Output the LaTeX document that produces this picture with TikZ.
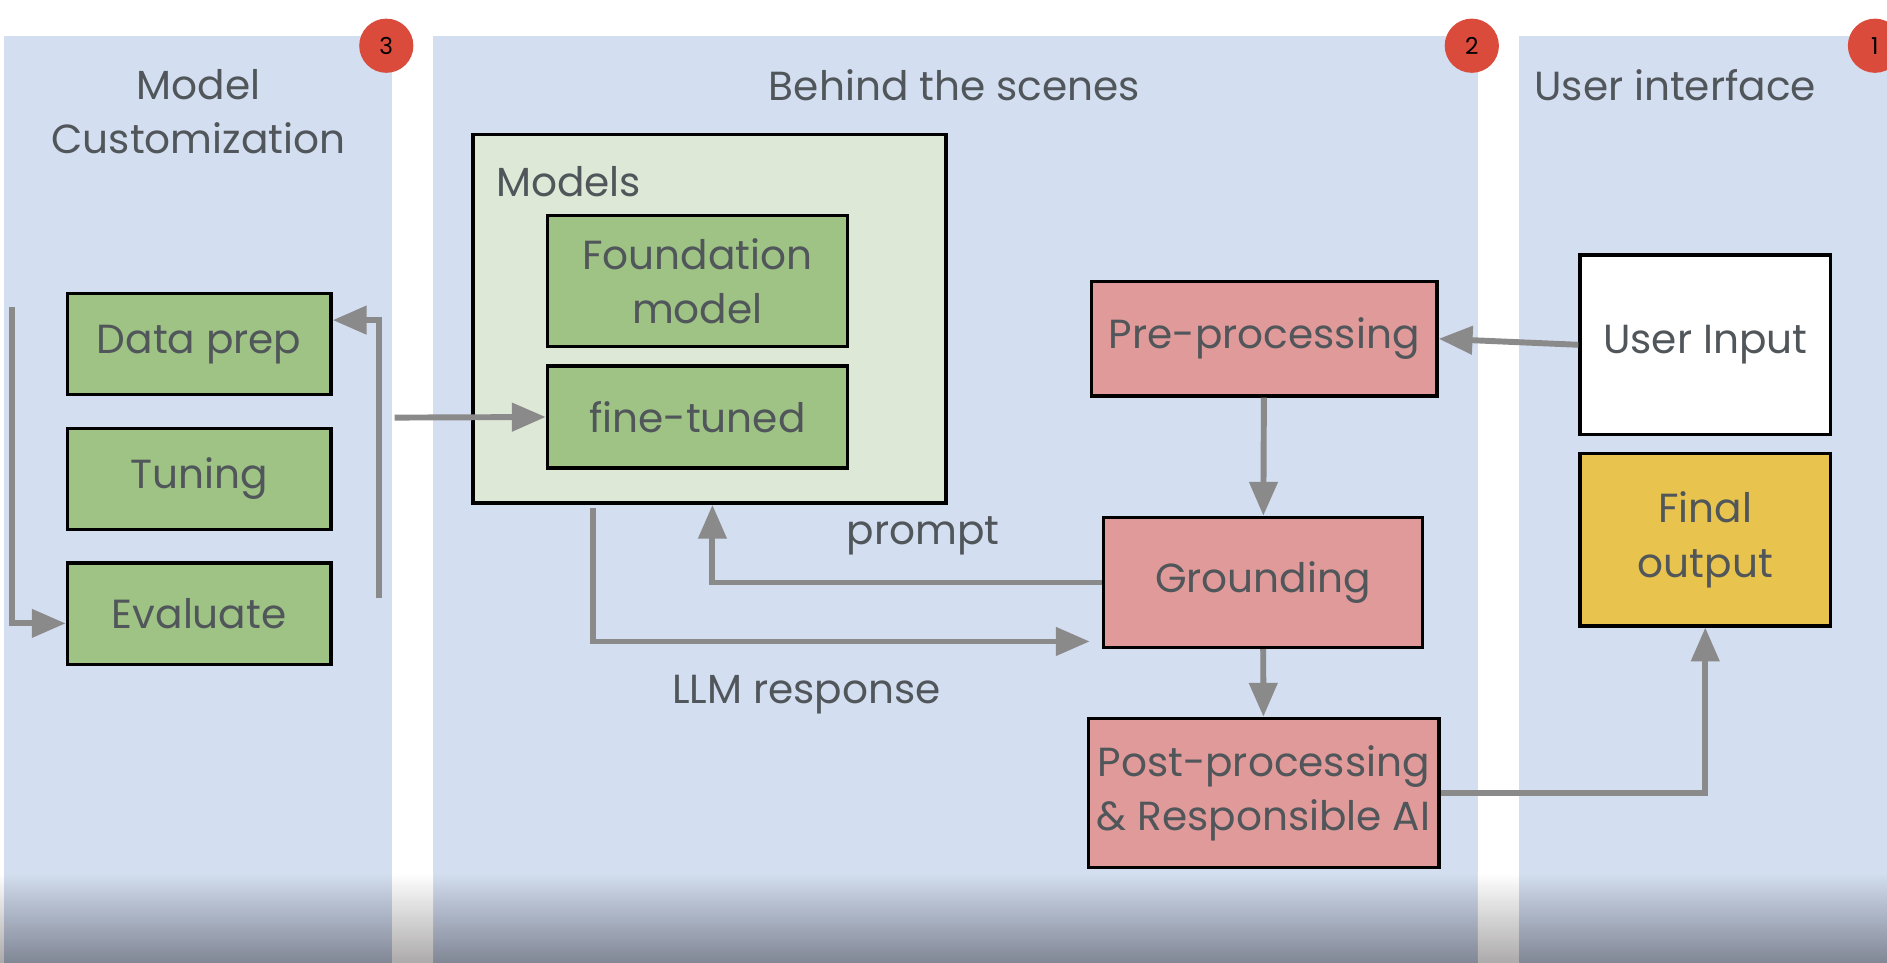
\documentclass[tikz,border=0pt]{standalone}
\usepackage{fontspec}
\setmainfont{Poppins}
\usetikzlibrary{arrows.meta, positioning}
\usepackage{xcolor}
\definecolor{panelblue}{RGB}{211,222,240}
\definecolor{fadeblue}{RGB}{128,134,148}
\definecolor{fadegray}{RGB}{172,170,170}
\definecolor{boxgreen}{RGB}{158,195,133}
\definecolor{palegreen}{RGB}{222,232,214}
\definecolor{boxpink}{RGB}{224,154,153}
\definecolor{boxyellow}{RGB}{232,195,78}
\definecolor{badgered}{RGB}{219,75,60}
\definecolor{textgray}{RGB}{80,86,90}
\definecolor{arrowgray}{RGB}{138,138,138}

\begin{document}
\begin{tikzpicture}[x=0.01cm, y=-0.01cm,
  every node/.style={font=\fontsize{9.6}{12.8}\selectfont, text=textgray, align=center},
  box/.style={rectangle, draw=black, line width=0.8pt, inner sep=2pt},
  custbox/.style={box, fill=boxgreen, minimum width=2.19cm, minimum height=0.84cm},
  modelbox/.style={box, fill=boxgreen, minimum width=2.49cm},
  procbox/.style={box, fill=boxpink},
  uibox/.style={box, minimum width=2.08cm},
  badge/.style={circle, fill=badgered, minimum size=0.45cm, inner sep=0pt,
                font=\fontsize{5.5}{6}\selectfont, text=black},
  flow/.style={draw=arrowgray, line width=1.4pt, -{Triangle[length=8pt,width=6.5pt]}}
]
\useasboundingbox (0,0) rectangle (1568,800);

% Panels, fading to grey at the bottom of the screen
\fill[panelblue] (3,30) rectangle (326,726);
\fill[panelblue] (360,30) rectangle (1228,726);
\fill[panelblue] (1262,30) rectangle (1568,726);
\foreach \xa/\xb in {3/326, 360/1228, 1262/1568}
  \shade[top color=panelblue, bottom color=fadeblue] (\xa,725) rectangle (\xb,800);
\foreach \xa/\xb in {0/3, 326/360, 1228/1262}
  \shade[top color=white, bottom color=fadegray] (\xa,725) rectangle (\xb,800);

% Panel titles and badges
\node (custtitle) at (165,93) {Model\\Customization};
\node (scenetitle) at (793,71) {Behind the scenes};
\node (uititle) at (1392,71) {User interface};
\node[badge] (badge3) at (321,38) {3};
\node[badge] (badge2) at (1223,38) {2};
\node[badge] (badge1) at (1558,38) {1};

% Model customization
\node[custbox] (dataprep) at (165.5,286) {Data prep};
\node[custbox] (tuning)   at (165.5,398) {Tuning};
\node[custbox] (evaluate) at (165.5,510) {Evaluate};

% Models
\node[box, fill=palegreen, minimum width=3.93cm, minimum height=3.06cm] (models) at (589.5,265) {};
\node[anchor=west] (modelslbl) at (400,151) {Models};
\node[modelbox, minimum height=1.09cm] (foundation) at (579.5,233.5) {Foundation\\model};
\node[modelbox, minimum height=0.85cm] (finetuned) at (579.5,346.5) {fine-tuned};

% Processing chain
\node[procbox, minimum width=2.87cm, minimum height=0.95cm] (preproc)   at (1050.5,281.5) {Pre-processing};
\node[procbox, minimum width=2.65cm, minimum height=1.08cm] (grounding) at (1049.5,484) {Grounding};
\node[procbox, minimum width=2.86cm, minimum height=1.24cm] (postproc)  at (1050,659) {Post-processing\\\& Responsible AI};

% User interface
\node[uibox, fill=white, minimum height=1.49cm] (userinput) at (1417,286.5) {User Input};
\node[uibox, fill=boxyellow, minimum height=1.43cm] (finaloutput) at (1417,448.5) {Final\\output};

% Connectors
\coordinate (loopin) at (10,255);
\draw[flow] (loopin) |- ([yshift=-0.08cm]evaluate.west);
\coordinate (loopback) at (315,497);
\draw[flow] (loopback) |- ([yshift=0.2cm]dataprep.east);
\coordinate (custout) at (328,347);
\draw[flow] (custout) -- (finetuned.west);

\draw[flow] (userinput.west) -- (preproc.east);
\draw[flow] (preproc) -- (grounding);
\draw[flow] (grounding) -- (postproc);
\draw[flow] (grounding.west) -| ([xshift=0.025cm]models.south);
\draw[flow, shorten >=0.1cm] ([xshift=-0.965cm, yshift=-0.03cm]models.south) |- ([yshift=-0.49cm]grounding.west);
\draw[flow] (postproc.east) -| (finaloutput.south);

\node (promptlbl) at (767,445) {prompt};
\node (llmlbl) at (670,577) {LLM response};

\end{tikzpicture}
\end{document}
